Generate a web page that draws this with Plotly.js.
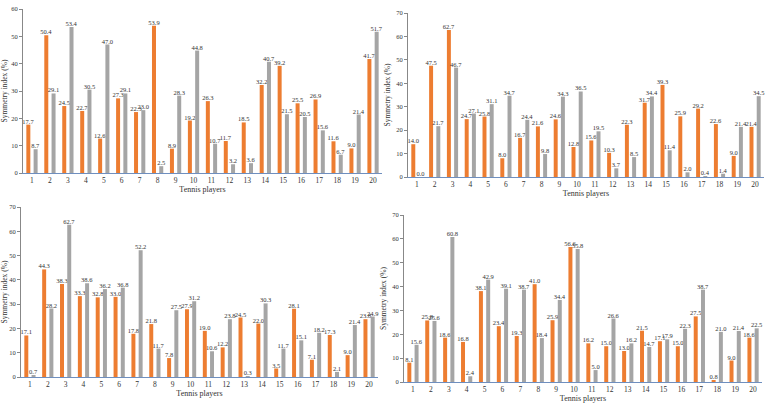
<!DOCTYPE html>
<html>
<head>
<meta charset="utf-8">
<script src="https://cdn.plot.ly/plotly-3.0.1.min.js"></script>
<style>
  html, body { margin: 0; padding: 0; background: #fff; }
  #chart { width: 768px; height: 409px; }
</style>
</head>
<body>
<div id="chart"></div>
<script>
const players = Array.from({ length: 20 }, (_, i) => String(i + 1));

// (a) top left
const orangeA = [17.7, 50.4, 24.5, 22.7, 12.6, 27.3, 22.3, 53.9, 8.9, 19.2, 26.3, 11.7, 18.5, 32.2, 39.2, 25.5, 26.9, 11.6, 9.0, 41.7];
const grayA = [8.7, 29.1, 53.4, 30.5, 47.0, 29.1, 23.0, 2.5, 28.3, 44.8, 10.7, 3.2, 3.6, 40.7, 21.5, 20.5, 15.6, 6.7, 21.4, 51.7];

// (b) top right
const orangeB = [14.0, 47.5, 62.7, 24.7, 25.8, 8.0, 16.7, 21.6, 24.6, 12.8, 15.6, 10.3, 22.3, 31.7, 39.3, 25.9, 29.2, 22.6, 9.0, 21.4];
const grayB = [0.0, 21.7, 46.7, 27.1, 31.1, 34.7, 24.4, 9.8, 34.3, 36.5, 19.5, 3.7, 8.5, 34.4, 11.4, 2.0, 0.4, 1.4, 21.4, 34.5];

// (c) bottom left
const orangeC = [17.1, 44.3, 38.3, 33.3, 32.8, 33.0, 17.8, 21.8, 7.8, 27.9, 19.0, 12.2, 24.5, 22.0, 3.5, 28.1, 7.1, 17.3, 9.0, 23.8];
const grayC = [0.7, 28.2, 62.7, 38.6, 36.2, 36.8, 52.2, 11.7, 27.5, 31.2, 10.6, 23.8, 0.3, 30.3, 11.7, 15.1, 18.2, 2.1, 21.4, 24.9];

// (d) bottom right
const orangeD = [8.1, 25.8, 18.6, 16.8, 38.1, 23.4, 19.3, 41.0, 25.9, 56.6, 16.2, 15.0, 13.0, 21.5, 17.1, 15.0, 27.5, 0.8, 9.0, 18.6];
const grayD = [15.6, 25.6, 60.8, 2.4, 42.9, 39.1, 38.7, 18.4, 34.4, 55.8, 5.0, 26.6, 16.2, 14.7, 17.9, 22.3, 38.7, 21.0, 21.4, 22.5];

const ORANGE = '#ED7D31';
const GRAY = '#A5A5A5';
const FONT = 'Liberation Serif, Times New Roman, serif';
const W = 768;
const H = 409;

function barTrace(y, color, n) {
  return {
    type: 'bar',
    x: players,
    y,
    xaxis: n === 1 ? 'x' : `x${n}`,
    yaxis: n === 1 ? 'y' : `y${n}`,
    marker: { color },
    texttemplate: '%{y:.1f}',
    textposition: 'outside',
    constraintext: 'none',
    cliponaxis: false,
    textfont: { family: FONT, size: 6.5, color: '#333' },
    showlegend: false,
    hoverinfo: 'x+y',
  };
}

function xAxis(px0, px1, anchor) {
  return {
    domain: [px0 / W, px1 / W],
    anchor,
    type: 'category',
    showline: true,
    linecolor: '#6f8fbf',
    linewidth: 1,
    ticks: '',
    showgrid: false,
    tickfont: { family: FONT, size: 7.5, color: '#333' },
    title: { text: 'Tennis players', font: { family: FONT, size: 8, color: '#333' }, standoff: 2 },
    fixedrange: true,
  };
}

function yAxis(pyBottom, pyTop, max, anchor) {
  return {
    domain: [(H - pyBottom) / H, (H - pyTop) / H],
    anchor,
    range: [0, max],
    dtick: 10,
    showline: true,
    linecolor: '#888',
    linewidth: 1,
    ticks: 'outside',
    ticklen: 3,
    tickcolor: '#888',
    showgrid: false,
    zeroline: false,
    tickfont: { family: FONT, size: 6.5, color: '#333' },
    title: { text: 'Symmetry index (%)', font: { family: FONT, size: 7.5, color: '#333' }, standoff: 4 },
    fixedrange: true,
  };
}

const data = [
  barTrace(orangeA, ORANGE, 1), barTrace(grayA, GRAY, 1),
  barTrace(orangeB, ORANGE, 2), barTrace(grayB, GRAY, 2),
  barTrace(orangeC, ORANGE, 3), barTrace(grayC, GRAY, 3),
  barTrace(orangeD, ORANGE, 4), barTrace(grayD, GRAY, 4),
];

const layout = {
  width: W,
  height: H,
  margin: { t: 0, r: 0, b: 0, l: 0 },
  barmode: 'group',
  bargap: 0.19,
  bargroupgap: 0.45,
  paper_bgcolor: '#fff',
  plot_bgcolor: '#fff',
  font: { family: FONT },
  xaxis: xAxis(23, 382, 'y'),
  yaxis: yAxis(173, 9, 60, 'x'),
  xaxis2: xAxis(408, 764, 'y2'),
  yaxis2: yAxis(177, 13, 70, 'x2'),
  xaxis3: xAxis(21, 378, 'y3'),
  yaxis3: yAxis(377, 207, 70, 'x3'),
  xaxis4: xAxis(404, 762, 'y4'),
  yaxis4: yAxis(382, 215, 70, 'x4'),
};

Plotly.newPlot('chart', data, layout, { displayModeBar: false, responsive: false });
</script>
</body>
</html>
